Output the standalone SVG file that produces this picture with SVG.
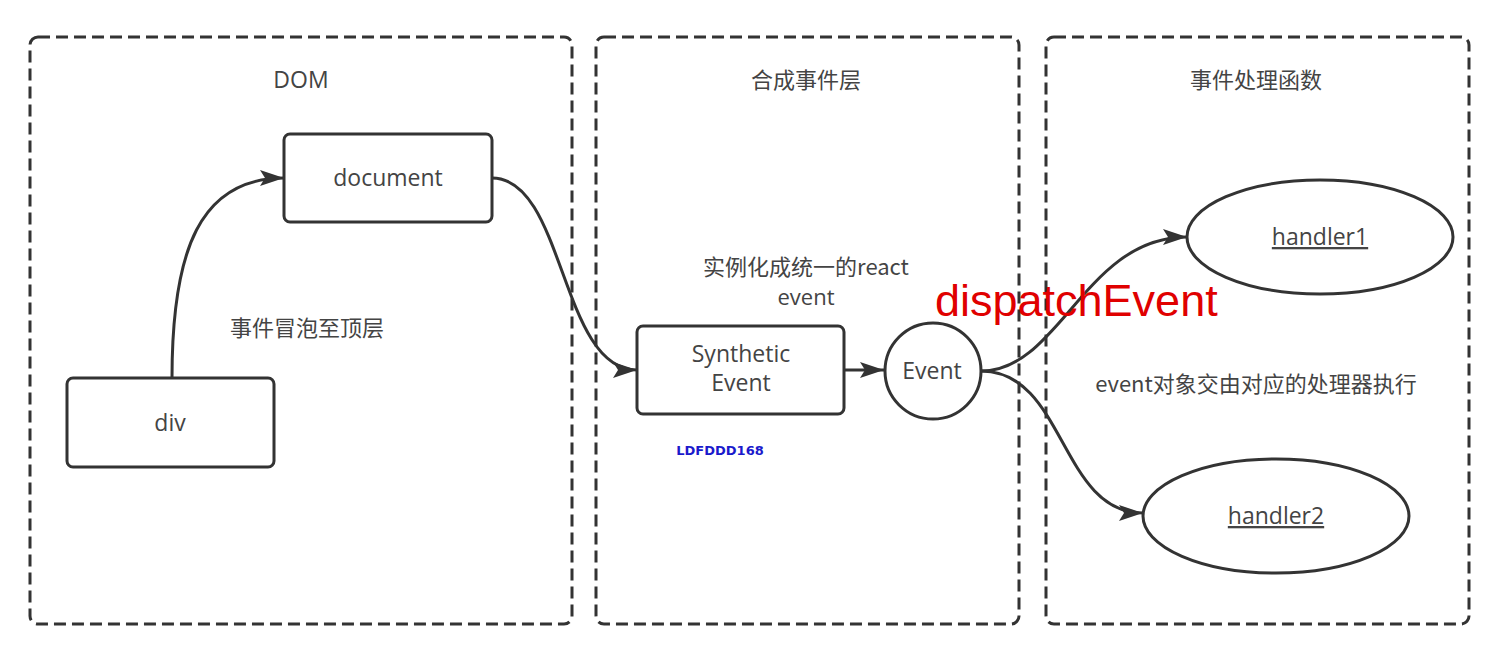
<svg xmlns="http://www.w3.org/2000/svg" width="1508" height="662" viewBox="0 0 1508 662">
<style>
.lane{fill:none;stroke:#333;stroke-width:3;stroke-dasharray:12 6}
.box{fill:#fff;stroke:#333;stroke-width:3}
.t{font-family:"Open Sans","Noto Sans CJK SC",sans-serif;font-size:23px;fill:#444;text-anchor:middle}
.c{font-family:"Noto Sans CJK SC","Open Sans",sans-serif;font-size:22px;fill:#444;text-anchor:middle}
.edge{fill:none;stroke:#333;stroke-width:3}
</style>
<defs>
<marker id="arr" viewBox="0 0 24 16" refX="24" refY="8" markerWidth="24" markerHeight="16" markerUnits="userSpaceOnUse" orient="auto">
<path d="M0,0 L24,8 L0,16 L5,8 Z" fill="#333"/>
</marker>
</defs>
<rect width="1508" height="662" fill="#fff"/>
<g id="lanes">
<g id="lane-dom"><rect class="lane" x="30" y="37" width="542" height="587" rx="8"/><text class="t" x="301" y="88">DOM</text></g>
<g id="lane-synth"><rect class="lane" x="596" y="37" width="423" height="587" rx="8"/><text class="c" x="806" y="88">合成事件层</text></g>
<g id="lane-handlers"><rect class="lane" x="1046" y="37" width="423" height="587" rx="8"/><text class="c" x="1256" y="88">事件处理函数</text></g>
</g>
<g id="connectors">
<path class="edge" d="M172,378 C172,250 200,178 284,178" marker-end="url(#arr)"/>
<path class="edge" d="M492,178 C565,178 560,370 637,370" marker-end="url(#arr)"/>
<path class="edge" d="M844,370 L884,370" marker-end="url(#arr)"/>
<path class="edge" d="M981,371 C1060,371 1085,237 1187,237" marker-end="url(#arr)"/>
<path class="edge" d="M981,371 C1065,371 1060,513 1143,513" marker-end="url(#arr)"/>
</g>
<g id="document"><rect class="box" x="284" y="134" width="208" height="88" rx="6"/><text class="t" x="388" y="186">document</text></g>
<g id="div"><rect class="box" x="67" y="378" width="207" height="89" rx="6"/><text class="t" x="170" y="431">div</text></g>
<g id="synthetic"><rect class="box" x="637" y="326" width="207" height="88" rx="6"/><text class="t" x="741" y="362" font-size="21">Synthetic<tspan x="741" dy="29">Event</tspan></text></g>
<g id="event"><circle class="box" cx="933" cy="371" r="48"/><text class="t" x="932" y="379">Event</text></g>
<g id="handler1"><ellipse class="box" cx="1320" cy="237" rx="133" ry="57"/><text class="t" x="1320" y="245" text-decoration="underline">handler1</text></g>
<g id="handler2"><ellipse class="box" cx="1276" cy="516" rx="133" ry="57"/><text class="t" x="1276" y="524" text-decoration="underline">handler2</text></g>
<g id="labels">
<text class="c" x="307" y="336">事件冒泡至顶层</text>
<text class="c" x="806" y="275" font-size="21">实例化成统一的react<tspan x="806" dy="30" font-family="'Open Sans',sans-serif">event</tspan></text>
<text class="c" x="1256" y="392">event对象交由对应的处理器执行</text>
<text x="935" y="316" font-family="'Liberation Sans',Arial,sans-serif" font-size="45" fill="#e00000">dispatchEvent</text>
<text x="720" y="455" font-family="'DejaVu Sans',Verdana,sans-serif" font-size="13" font-weight="bold" fill="#1a1acc" text-anchor="middle">LDFDDD168</text>
</g>
</svg>
